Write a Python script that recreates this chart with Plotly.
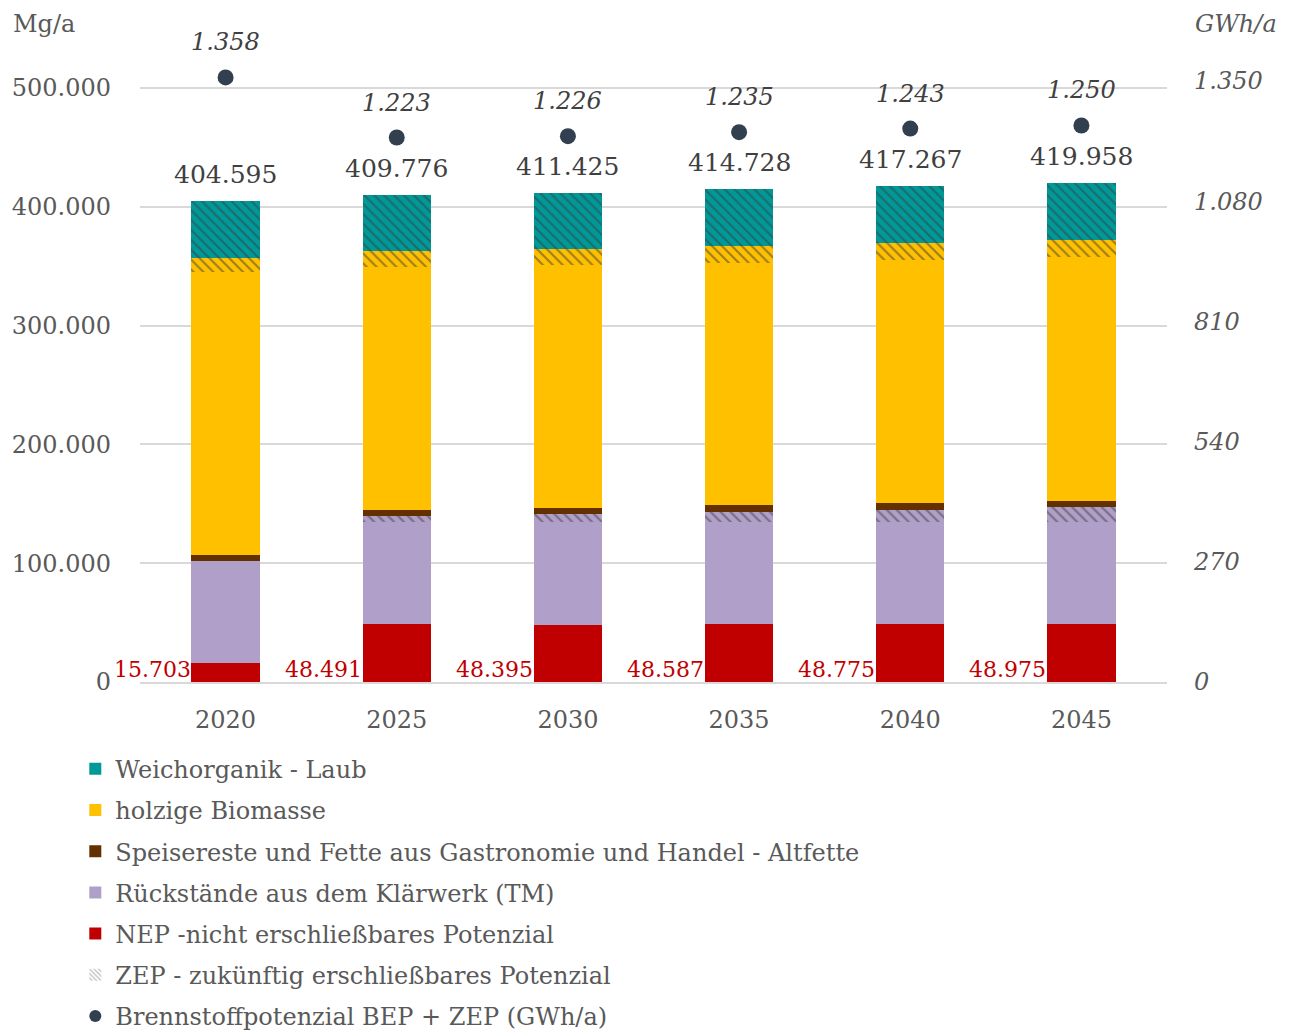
import plotly.graph_objects as go

years = ["2020", "2025", "2030", "2035", "2040", "2045"]

nep = [15703, 48491, 48395, 48587, 48775, 48975]
rueck_bep = [86200, 86500, 86600, 86400, 86200, 86000]
rueck_zep = [0, 4800, 6700, 8400, 9900, 12400]
speise = [5100, 5100, 5000, 5300, 5500, 5100]
holz_bep = [237700, 204300, 204000, 204300, 204900, 205400]
holz_zep = [12600, 13500, 13500, 14000, 14000, 14300]
weich_zep = [47292, 47085, 47230, 47741, 47992, 47783]
totals = [404595, 409776, 411425, 414728, 417267, 419958]
brennstoff = [1358, 1223, 1226, 1235, 1243, 1250]

left_ticks = [0, 100000, 200000, 300000, 400000, 500000]
right_ticks = [0, 270, 540, 810, 1080, 1350]

TEAL = "#009999"
YELLOW = "#FFC000"
BROWN = "#633100"
PURPLE = "#B09FC8"
RED = "#C00000"
DOT = "#323F4F"
TXT = "#595959"
HATCH = "#3C3C3C"
FONT = "DejaVu Serif"


def de(v):
    return f"{v:,}".replace(",", ".")


def hatch(bg):
    return dict(shape="\\", fgcolor=HATCH, bgcolor=bg, size=7, solidity=0.3)


fig = go.Figure()

# stacked bars (bottom to top)
fig.add_bar(x=years, y=nep, name="NEP -nicht erschließbares Potenzial",
            marker=dict(color=RED, line_width=0), legendrank=5, legendgroup="g5")
fig.add_bar(x=years, y=rueck_bep, name="Rückstände aus dem Klärwerk (TM)",
            marker=dict(color=PURPLE, line_width=0), legendrank=4, legendgroup="g4")
fig.add_bar(x=years, y=rueck_zep, name="Rückstände ZEP", showlegend=False,
            marker=dict(color=PURPLE, line_width=0, pattern=hatch(PURPLE)))
fig.add_bar(x=years, y=speise, name="Speisereste und Fette aus Gastronomie und Handel - Altfette",
            marker=dict(color=BROWN, line_width=0), legendrank=3, legendgroup="g3")
fig.add_bar(x=years, y=holz_bep, name="holzige Biomasse",
            marker=dict(color=YELLOW, line_width=0), legendrank=2, legendgroup="g2")
fig.add_bar(x=years, y=holz_zep, name="holzige Biomasse ZEP", showlegend=False,
            marker=dict(color=YELLOW, line_width=0, pattern=hatch(YELLOW)))
fig.add_bar(x=years, y=weich_zep, name="Weichorganik ZEP", showlegend=False,
            marker=dict(color=TEAL, line_width=0, pattern=hatch(TEAL)))

# legend-only entries
fig.add_bar(x=[None], y=[None], name="Weichorganik - Laub",
            marker=dict(color=TEAL, line_width=0), legendrank=1, legendgroup="g1")
fig.add_bar(x=[None], y=[None], name="ZEP - zukünftig erschließbares Potenzial",
            marker=dict(color="white", line_width=0,
                        pattern=dict(shape="\\", fgcolor="#7F7F7F", bgcolor="white", size=4, solidity=0.4)),
            legendrank=6, legendgroup="g6")

fig.add_scatter(x=years, y=brennstoff, yaxis="y2", mode="markers",
                name="Brennstoffpotenzial BEP + ZEP (GWh/a)",
                marker=dict(color=DOT, size=16), legendrank=7, legendgroup="g7")

for i, t in enumerate(totals):
    fig.add_annotation(x=i, y=t, xref="x", yref="y", text=de(t), showarrow=False,
                       yanchor="middle", yshift=27,
                       font=dict(family=FONT, size=25, color="#404040"))
for i, v in enumerate(brennstoff):
    fig.add_annotation(x=i, y=v, xref="x", yref="y2", text=f"<i>{de(v)}</i>", showarrow=False,
                       yanchor="middle", yshift=35,
                       font=dict(family=FONT, size=24, color="#404040"))
for i, v in enumerate(nep):
    fig.add_annotation(x=i, y=0, xref="x", yref="y", text=de(v), showarrow=False,
                       xanchor="right", yanchor="bottom", xshift=-33, yshift=-2,
                       font=dict(family=FONT, size=22, color=RED))

fig.add_annotation(x=0, y=1, xref="paper", yref="paper", xanchor="left", yanchor="middle",
                   text="Mg/a", showarrow=False, xshift=-129, yshift=36,
                   font=dict(family=FONT, size=24, color=TXT))
fig.add_annotation(x=1, y=1, xref="paper", yref="paper", xanchor="left", yanchor="middle",
                   text="<i>GWh/a</i>", showarrow=False, xshift=26, yshift=36,
                   font=dict(family=FONT, size=24, color=TXT))

fig.update_layout(
    width=1293, height=1030,
    margin=dict(l=140, r=126, t=60, b=348, autoexpand=False),
    barmode="stack", bargap=0.6,
    separators=",.",
    plot_bgcolor="white", paper_bgcolor="white",
    font=dict(family=FONT, size=24, color=TXT),
    legend=dict(x=-0.063, y=-0.104, xanchor="left", yanchor="top",
                orientation="v", traceorder="grouped", tracegroupgap=7,
                font=dict(family=FONT, size=24, color=TXT), itemsizing="constant"),
    xaxis=dict(type="category", range=[-0.5, 5.5], showgrid=False, showline=True,
               linecolor="#D9D9D9", linewidth=2,
               ticks="", ticklabelstandoff=15, tickfont=dict(size=24, color=TXT)),
    yaxis=dict(range=[0, 523569], tickvals=left_ticks, tickformat=",.0f",
               showgrid=True, gridcolor="#D9D9D9", gridwidth=2, zeroline=False,
               ticks="", ticklabelstandoff=28, tickfont=dict(size=24, color=TXT)),
    yaxis2=dict(range=[0, 1397.1], overlaying="y", side="right", tickvals=right_ticks,
                tickformat=",.0f", showgrid=False, zeroline=False, ticks="",
                ticklabelstandoff=26, tickfont=dict(size=24, color=TXT, style="italic")),
)

fig.write_html("out.html", config={"displayModeBar": False},
               post_script="document.body.style.margin='0';")
